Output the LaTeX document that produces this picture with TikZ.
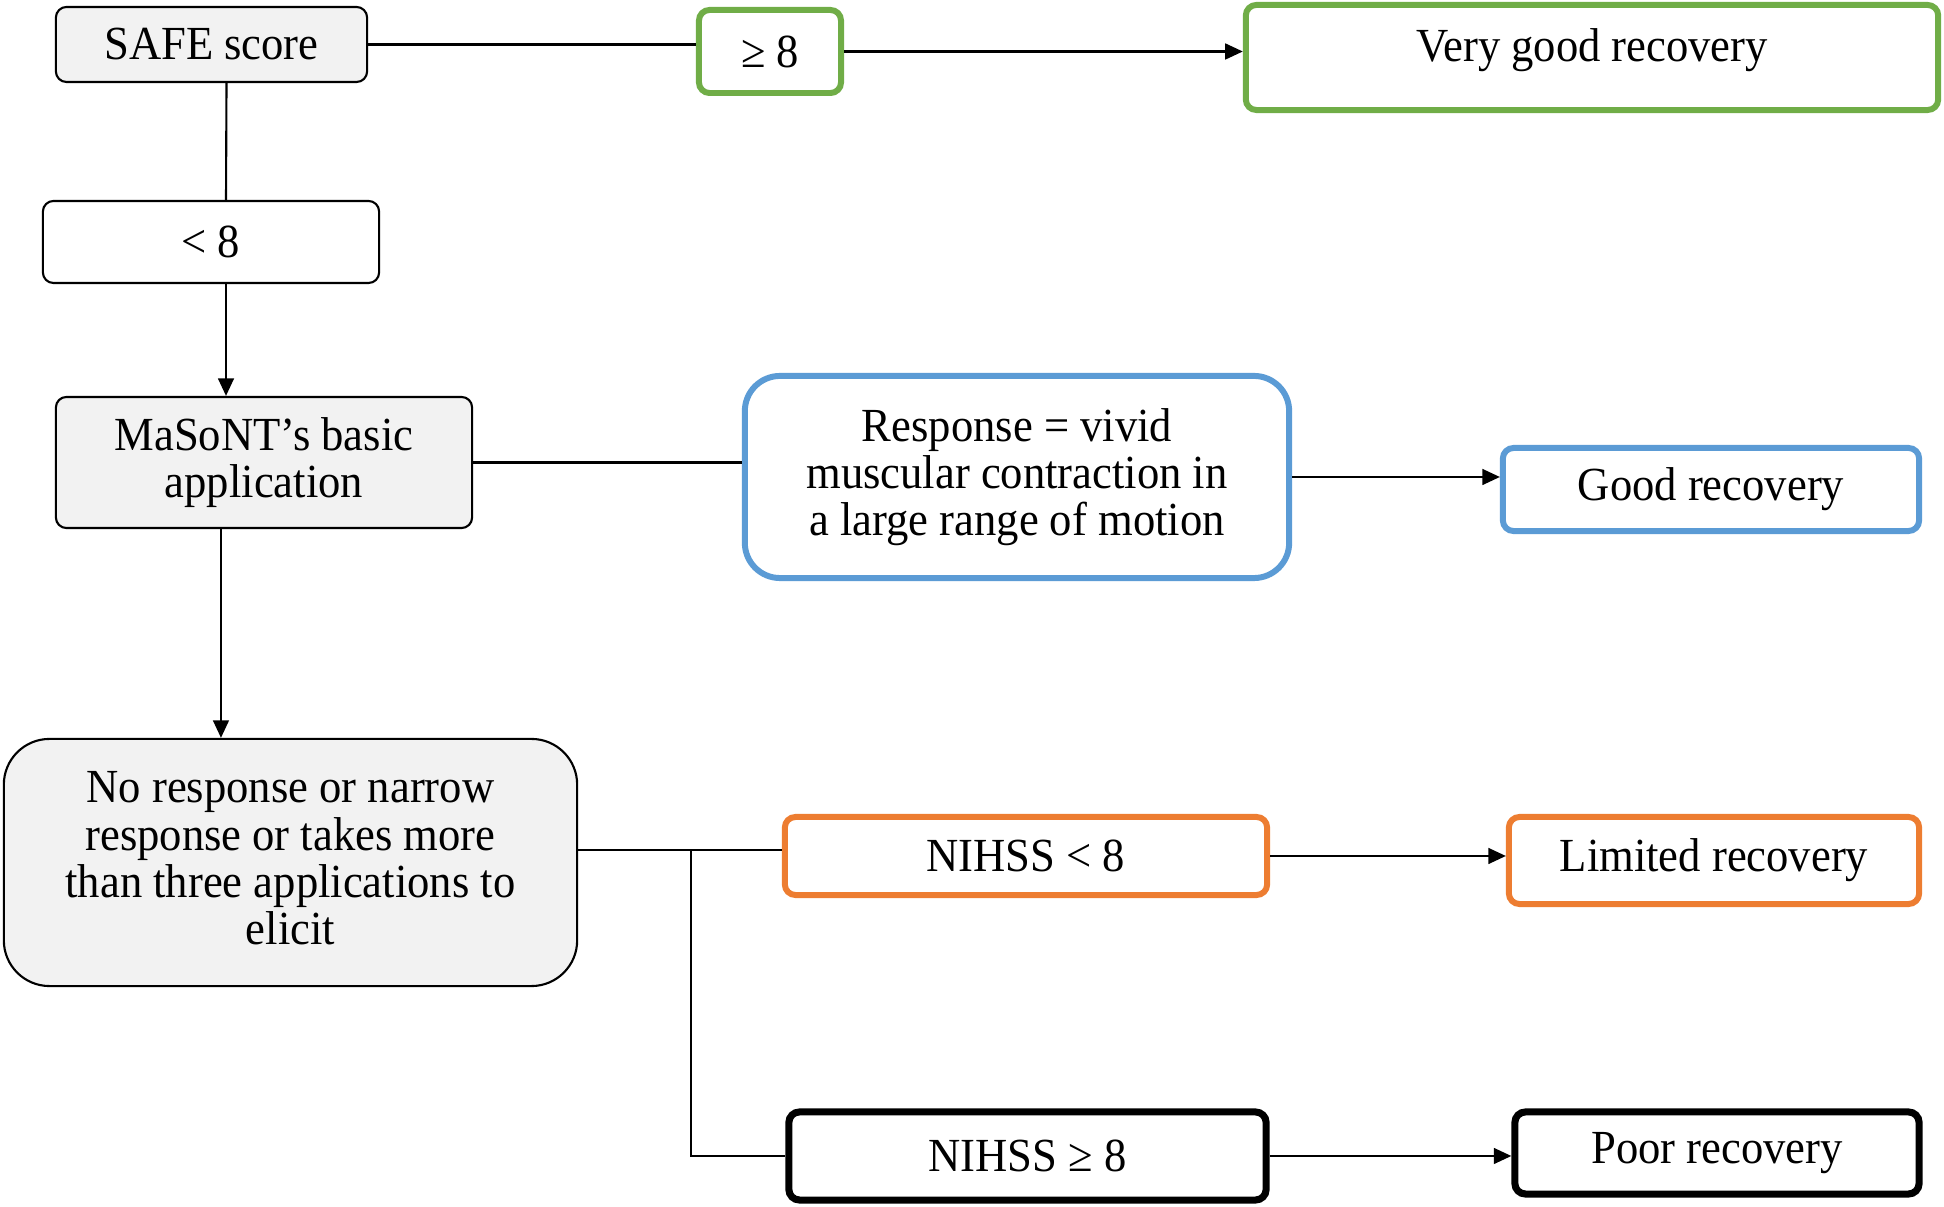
\documentclass[tikz,border=0pt]{standalone}
\usepackage{fontspec}
\setmainfont{Liberation Serif}[FakeStretch=0.94]
\usetikzlibrary{arrows.meta}
\definecolor{boxgray}{HTML}{F2F2F2}
\definecolor{okgreen}{HTML}{70AD47}
\definecolor{okblue}{HTML}{5B9BD5}
\definecolor{okorange}{HTML}{ED7D31}
\tikzstyle{box}=[draw,rounded corners=3pt,align=center,inner sep=0pt,line width=0.6pt,font=\fontsize{13.5}{13.4}\selectfont]
\tikzstyle{greybox}=[box,fill=boxgray]
\tikzstyle{greenbox}=[box,draw=okgreen,line width=1.7pt]
\tikzstyle{bluebox}=[box,draw=okblue,line width=1.7pt]
\tikzstyle{orangebox}=[box,draw=okorange,line width=1.7pt]
\tikzstyle{blackbox}=[box,line width=2pt]
\tikzstyle{link}=[line width=0.6pt]
\tikzstyle{arr}=[link,-{Triangle[length=5pt,width=4.5pt]}]

\begin{document}
\begin{tikzpicture}[x=0.01cm,y=-0.01cm]
\useasboundingbox (0,0) rectangle (1944,1207);
\node[greybox,minimum width=3.11cm,minimum height=0.75cm] at (211.5,44.5) (safe) {SAFE score};
\node[greenbox,minimum width=1.42cm,minimum height=0.83cm] at (770,51.5) (ge) {≥ 8};
\node[greenbox,minimum width=6.92cm,minimum height=1.05cm,text depth=7pt] at (1592,57.5) (vgood) {Very good recovery};
\node[box,minimum width=3.36cm,minimum height=0.82cm] at (211,242) (lt) {< 8};
\node[greybox,minimum width=4.16cm,minimum height=1.31cm] at (264,462.5) (mason) {MaSoNT’s basic\\application};
\node[bluebox,rounded corners=10pt,minimum width=5.44cm,minimum height=2.02cm] at (1017,477) (resp) {Response = vivid\\muscular contraction in\\a large range of motion};
\node[bluebox,minimum width=4.16cm,minimum height=0.83cm] at (1711,489.5) (good) {Good recovery};
\node[greybox,rounded corners=13pt,minimum width=5.73cm,minimum height=2.47cm,text depth=2.5pt] at (290.5,862.5) (nores) {No response or narrow\\response or takes more\\than three applications to\\elicit};
\node[orangebox,minimum width=4.82cm,minimum height=0.78cm] at (1026,856) (nlow) {NIHSS < 8};
\node[orangebox,minimum width=4.10cm,minimum height=0.87cm] at (1714,860.5) (limited) {Limited recovery};
\node[blackbox,minimum width=4.77cm,minimum height=0.88cm] at (1027.5,1156) (nhigh) {NIHSS ≥ 8};
\node[blackbox,minimum width=4.04cm,minimum height=0.82cm] at (1717,1153) (poor) {Poor recovery};
\coordinate (split) at (691,850);

\draw[link] (safe.east) -- (safe.east -| ge.west);
\draw[arr] (ge.east) -- (ge.east -| vgood.west);
\draw[link] ([xshift=1.5mm]safe.south) -- ([xshift=1.5mm]lt.north);
\draw[arr] ([xshift=1.5mm]lt.south) -- ([xshift=1.5mm]lt.south |- mason.north);
\draw[link] (mason.east) -- (mason.east -| resp.west);
\draw[arr] (resp.east) -- (resp.east -| good.west);
\draw[arr] ([xshift=-4.3mm]mason.south) -- ([xshift=-4.3mm]mason.south |- nores.north);
\draw[link] (nores.east |- split) -- (split -| nlow.west);
\draw[link] (split) |- (nhigh.west);
\draw[arr] (nlow.east) -- (nlow.east -| limited.west);
\draw[arr] (nhigh.east) -- (nhigh.east -| poor.west);
\end{tikzpicture}
\end{document}
